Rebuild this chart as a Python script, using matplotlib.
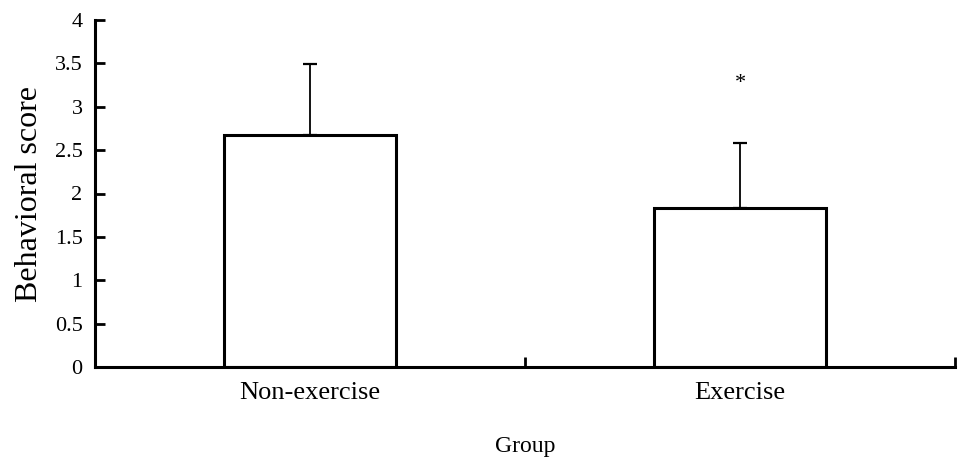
import numpy as np
import matplotlib
matplotlib.use("Agg")
import matplotlib.pyplot as plt

# ---- values ----
groups = ["Non-exercise", "Exercise"]
means = [2.68, 1.83]
sds = [0.81, 0.75]
star_y = 3.27
yticks = [0, 0.5, 1, 1.5, 2, 2.5, 3, 3.5, 4]
ytick_labels = ["0", "0.5", "1", "1.5", "2", "2.5", "3", "3.5", "4"]

plt.rcParams["font.family"] = ["Liberation Serif", "DejaVu Serif"]

fig = plt.figure(figsize=(9.69, 4.70), dpi=100)
ax = fig.add_axes([95/969, 103/470, 860/969, 347/470])

x = np.arange(len(groups)) + 0.5
ax.bar(x, means, width=0.4, color="white", edgecolor="black", linewidth=2.2, zorder=2)
ax.errorbar(x, means, yerr=[np.zeros(len(sds)), sds], fmt="none", ecolor="black",
            elinewidth=1.3, capsize=5, capthick=1.6, zorder=1)
ax.text(x[1], star_y, "*", ha="center", va="center", fontsize=16)

ax.set_xlim(0, 2)
ax.set_ylim(0, 4)
ax.set_xticks([0, 1, 2])
ax.set_xticklabels([])
ax.set_xticks(x, minor=True)
ax.set_xticklabels(groups, minor=True, fontsize=19)
ax.tick_params(axis="x", which="major", direction="in", length=7, width=2)
ax.tick_params(axis="x", which="minor", length=0, pad=11)
ax.set_yticks(yticks)
ax.set_yticklabels(ytick_labels, fontsize=16)
ax.tick_params(axis="y", direction="in", length=7, width=2, pad=9)

for s in ("top", "right"):
    ax.spines[s].set_visible(False)
for s in ("left", "bottom"):
    ax.spines[s].set_linewidth(2.2)

ax.set_xlabel("Group", fontsize=17, labelpad=23)
ax.set_ylabel("Behavioral score", fontsize=23, labelpad=8)

fig.savefig("out.png", dpi=100)
